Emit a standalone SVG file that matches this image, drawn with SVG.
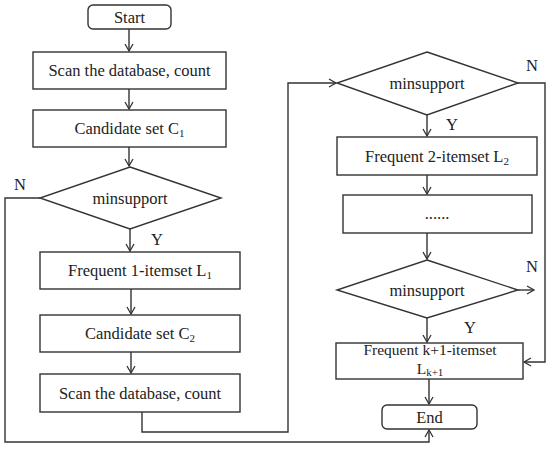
<svg xmlns="http://www.w3.org/2000/svg" width="550" height="457" viewBox="0 0 550 457">
<defs>
<marker id="ar" markerWidth="10" markerHeight="10" refX="8" refY="5" orient="auto" markerUnits="userSpaceOnUse">
<path d="M1,1 L8,5 L1,9" fill="none" stroke="#333" stroke-width="1.3"/>
</marker>
<style>
.b{fill:#fff;stroke:#333;stroke-width:1.4}
.t{font-family:"Liberation Serif","Times New Roman",serif;font-size:16.5px;fill:#222;text-anchor:middle}
.k{font-size:15.5px}
.s{font-size:11px}
.c{fill:none;stroke:#333;stroke-width:1.4}
</style>
</defs>
<rect width="550" height="457" fill="#fff"/>
<g id="connectors">
<path class="c" d="M129,29 V51" marker-end="url(#ar)"/>
<path class="c" d="M129,89 V109" marker-end="url(#ar)"/>
<path class="c" d="M129,147 V166" marker-end="url(#ar)"/>
<path class="c" d="M130,229 V251" marker-end="url(#ar)"/>
<path class="c" d="M131,289 V314" marker-end="url(#ar)"/>
<path class="c" d="M131,352 V373" marker-end="url(#ar)"/>
<path class="c" d="M142,412 V432 H288 V83 H336" marker-end="url(#ar)"/>
<path class="c" d="M40,198 H5 V442 H429 V430" marker-end="url(#ar)"/>
<path class="c" d="M427,115 V136" marker-end="url(#ar)"/>
<path class="c" d="M427,175 V194" marker-end="url(#ar)"/>
<path class="c" d="M427,233 V259" marker-end="url(#ar)"/>
<path class="c" d="M518,83 H545 V362 H524" marker-end="url(#ar)"/>
<path class="c" d="M518,290 H534" marker-end="url(#ar)"/>
<path class="c" d="M427,318 V342" marker-end="url(#ar)"/>
<path class="c" d="M429,379 V404" marker-end="url(#ar)"/>
<text class="t" x="20" y="190">N</text>
<text class="t" x="157" y="245">Y</text>
<text class="t" x="532" y="71">N</text>
<text class="t" x="452" y="130">Y</text>
<text class="t" x="532" y="272">N</text>
<text class="t" x="470" y="333">Y</text>
</g>
<g id="start"><rect class="b" x="88" y="5" width="83" height="24" rx="5"/><text class="t" x="129.5" y="23">Start</text></g>
<g id="scan1"><rect class="b" x="33" y="52" width="193" height="37"/><text class="t" x="129.5" y="76">Scan the database, count</text></g>
<g id="cand1"><rect class="b" x="33" y="110" width="193" height="37"/><text class="t" x="129.5" y="134">Candidate set C<tspan class="s" dy="3">1</tspan></text></g>
<g id="dec1"><polygon class="b" points="130,167 221,198 130,229 40,198"/><text class="t" x="130" y="204">minsupport</text></g>
<g id="freq1"><rect class="b" x="40" y="252" width="200" height="37"/><text class="t" x="140" y="276">Frequent 1-itemset L<tspan class="s" dy="3">1</tspan></text></g>
<g id="cand2"><rect class="b" x="40" y="315" width="200" height="37"/><text class="t" x="140" y="339">Candidate set C<tspan class="s" dy="3">2</tspan></text></g>
<g id="scan2"><rect class="b" x="40" y="374" width="200" height="38"/><text class="t" x="140" y="399">Scan the database, count</text></g>
<g id="dec2"><polygon class="b" points="427,52 518,83 427,115 337,83"/><text class="t" x="427" y="89">minsupport</text></g>
<g id="freq2"><rect class="b" x="337" y="137" width="200" height="38"/><text class="t" x="437" y="162">Frequent 2-itemset L<tspan class="s" dy="3">2</tspan></text></g>
<g id="dots"><rect class="b" x="343" y="195" width="189" height="38"/><text class="t" x="437" y="219">......</text></g>
<g id="dec3"><polygon class="b" points="427,260 518,290 427,318 337,290"/><text class="t" x="427" y="296">minsupport</text></g>
<g id="freqk"><rect class="b" x="336" y="343" width="187" height="36"/><text class="t k" x="430" y="355">Frequent k+1-itemset</text><text class="t k" x="430" y="374">L<tspan class="s" dy="2">k+1</tspan></text></g>
<g id="end"><rect class="b" x="382" y="405" width="95" height="24" rx="5"/><text class="t" x="429.5" y="423">End</text></g>
</svg>
